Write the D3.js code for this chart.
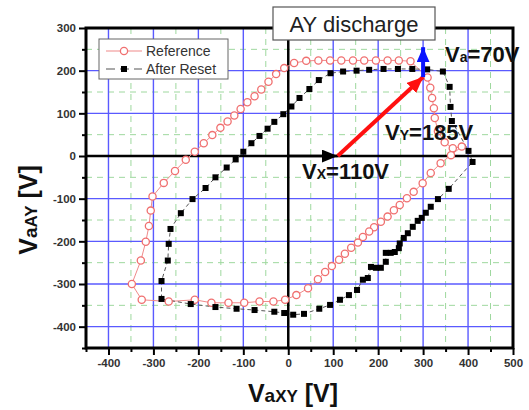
<!DOCTYPE html>
<html>
<head>
<meta charset="utf-8">
<script src="https://cdn.jsdelivr.net/npm/d3@7"></script>
<style>
  body { margin: 0; background: #fff; }
  svg { font-family: "Liberation Sans", Arial, sans-serif; }
</style>
</head>
<body>
<div id="chart"></div>
<script>
// Reference loop (open red circles)
const refX = [-348, -328, -317, -310, -306, -302, -277, -252, -228, -208, -188, -169, -151, -135, -120, -106, -91, -75, -60, -44, -27, -9, 13, 40, 67, 93, 118, 144, 169, 195, 221, 246, 272, 310, 316, 320, 324, 326, 333, 348, 366, 386, 362, 339, 317, 299, 279, 264, 248, 235, 221, 206, 191, 180, 166, 155, 140, 126, 113, 97, 82, 66, 44, 18, -7, -33, -64, -98, -133, -171, -208, -266, -326, -348];
const refY = [-300, -245, -201, -164, -128, -95, -63, -35, -9, 10, 30, 49, 66, 81, 95, 110, 126, 140, 156, 174, 192, 206, 218, 223, 224, 224, 224, 224, 224, 224, 224, 224, 222, 184, 160, 136, 112, 89, 58, 32, 18, 22, 2, -17, -40, -64, -84, -99, -115, -127, -142, -154, -167, -177, -190, -203, -215, -229, -243, -258, -272, -289, -310, -326, -337, -341, -341, -344, -344, -344, -337, -341, -337, -300];

// After reset loop (black squares)
const resetX = [-100, -82, -64, -46, -31, -11, 7, 25, 47, 68, 94, 122, 152, 180, 212, 244, 276, 309, 344, 359, 361, 364, 401, 410, 357, 333, 317, 306, 297, 288, 277, 266, 257, 248, 246, 237, 228, 217, 217, 206, 195, 184, 177, 166, 153, 135, 115, 93, 69, 35, 11, -9, -31, -75, -115, -162, -217, -282, -282, -268, -266, -262, -239, -213, -184, -162, -137, -117, -100];
const resetY = [10, 30, 47, 64, 80, 98, 116, 136, 157, 178, 194, 198, 200, 202, 204, 204, 204, 203, 198, 162, 115, 82, 12, -14, -77, -101, -119, -133, -145, -152, -166, -181, -192, -205, -216, -225, -227, -227, -248, -262, -262, -260, -286, -290, -314, -326, -337, -349, -358, -370, -372, -368, -365, -361, -358, -354, -347, -335, -293, -245, -206, -171, -134, -101, -75, -50, -27, -8, 10];

const xMajor = [-400, -300, -200, -100, 0, 100, 200, 300, 400, 500];
const yMajor = [-400, -300, -200, -100, 0, 100, 200, 300];
const xMinor = [-450, -350, -250, -150, -50, 50, 150, 250, 350, 450];
const yMinor = [-450, -350, -250, -150, -50, 50, 150, 250];

// vector decomposition: Vx, Vy, Va
const vx = 110, vyEnd = [300, 185], va = 70;

const width = 529, height = 410;
const margin = { left: 86, right: 16, top: 28, bottom: 62 };

const x = d3.scaleLinear().domain([-450, 500]).range([margin.left, width - margin.right]);
const y = d3.scaleLinear().domain([-450, 300]).range([height - margin.bottom, margin.top]);

const svg = d3.select("#chart")
    .append("svg")
    .attr("width", width)
    .attr("height", height);

const defs = svg.append("defs");
function arrowHead(id, color, w, h) {
    defs.append("marker")
        .attr("id", id)
        .attr("viewBox", `0 0 ${w} ${h}`)
        .attr("refX", w)
        .attr("refY", h / 2)
        .attr("markerWidth", w)
        .attr("markerHeight", h)
        .attr("markerUnits", "userSpaceOnUse")
        .attr("orient", "auto")
        .append("path")
        .attr("d", `M0,0 L${w},${h / 2} L0,${h} Z`)
        .attr("fill", color);
}
arrowHead("headBlack", "#000", 16, 13);
arrowHead("headRed", "#ff1010", 16, 14);
arrowHead("headBlue", "#0a14ff", 15, 13);

const x0 = margin.left, x1 = width - margin.right;
const y0 = margin.top, y1 = height - margin.bottom;

// minor grid
const grid = svg.append("g");
grid.selectAll(".gx").data(xMinor.filter(d => d > -450)).enter().append("line")
    .attr("x1", d => x(d)).attr("x2", d => x(d))
    .attr("y1", y0).attr("y2", y1)
    .attr("stroke", "#9ed89e").attr("stroke-width", 1).attr("stroke-dasharray", "6,5");
grid.selectAll(".gy").data(yMinor.filter(d => d > -450)).enter().append("line")
    .attr("y1", d => y(d)).attr("y2", d => y(d))
    .attr("x1", x0).attr("x2", x1)
    .attr("stroke", "#9ed89e").attr("stroke-width", 1).attr("stroke-dasharray", "6,5");

// major grid
grid.selectAll(".mx").data(xMajor.filter(d => d !== 0 && d < 500)).enter().append("line")
    .attr("x1", d => x(d)).attr("x2", d => x(d))
    .attr("y1", y0).attr("y2", y1)
    .attr("stroke", "#5a5aff").attr("stroke-width", 1.4);
grid.selectAll(".my").data(yMajor.filter(d => d !== 0 && d < 300)).enter().append("line")
    .attr("y1", d => y(d)).attr("y2", d => y(d))
    .attr("x1", x0).attr("x2", x1)
    .attr("stroke", "#5a5aff").attr("stroke-width", 1.4);

// zero lines
svg.append("line")
    .attr("x1", x(0)).attr("x2", x(0)).attr("y1", y0).attr("y2", y1)
    .attr("stroke", "#000").attr("stroke-width", 2.5);
svg.append("line")
    .attr("x1", x0).attr("x2", x1).attr("y1", y(0)).attr("y2", y(0))
    .attr("stroke", "#000").attr("stroke-width", 2.5);

// axes
const tickFmt = d => d;
svg.append("g")
    .attr("transform", `translate(${x0},0)`)
    .call(d3.axisLeft(y).tickValues(yMinor).tickSize(4).tickFormat(""))
    .call(g => g.select(".domain").remove());
svg.append("g")
    .attr("transform", `translate(0,${y1})`)
    .call(d3.axisBottom(x).tickValues(xMinor).tickSize(4).tickFormat(""))
    .call(g => g.select(".domain").remove());
const yAxis = svg.append("g")
    .attr("transform", `translate(${x0},0)`)
    .call(d3.axisLeft(y).tickValues(yMajor).tickSize(7).tickPadding(3).tickFormat(tickFmt));
const xAxis = svg.append("g")
    .attr("transform", `translate(0,${y1})`)
    .call(d3.axisBottom(x).tickValues(xMajor).tickSize(7).tickPadding(4).tickFormat(tickFmt));
[yAxis, xAxis].forEach(g => {
    g.select(".domain").remove();
    g.selectAll(".tick line").attr("stroke-width", 2);
    g.selectAll(".tick text")
        .attr("fill", "#333")
        .style("font-size", "11.5px")
        .style("font-weight", "bold")
        .style("font-family", "'Liberation Sans', Arial, sans-serif");
});
svg.selectAll(".tick line").attr("stroke", "#000").attr("stroke-width", 2);

// series
const refPts = refX.map((d, i) => [d, refY[i]]);
const resetPts = resetX.map((d, i) => [d, resetY[i]]);
const line = d3.line().x(d => x(d[0])).y(d => y(d[1]));

svg.append("path")
    .datum(refPts)
    .attr("d", line)
    .attr("fill", "none")
    .attr("stroke", "#f08a8a")
    .attr("stroke-width", 1);
svg.append("path")
    .datum(resetPts)
    .attr("d", line)
    .attr("fill", "none")
    .attr("stroke", "#555")
    .attr("stroke-width", 1)
    .attr("stroke-dasharray", "4,3");

svg.append("g").selectAll("circle")
    .data(refPts.slice(0, -1))
    .enter().append("circle")
    .attr("cx", d => x(d[0]))
    .attr("cy", d => y(d[1]))
    .attr("r", 3.6)
    .attr("fill", "#fff")
    .attr("stroke", "#f07070")
    .attr("stroke-width", 1.3);
svg.append("g").selectAll("rect")
    .data(resetPts.slice(0, -1))
    .enter().append("rect")
    .attr("x", d => x(d[0]) - 3)
    .attr("y", d => y(d[1]) - 3)
    .attr("width", 6)
    .attr("height", 6)
    .attr("fill", "#000");

// arrows
svg.append("line")
    .attr("x1", x(0)).attr("y1", y(0))
    .attr("x2", x(vx)).attr("y2", y(0))
    .attr("stroke", "#000").attr("stroke-width", 2.5)
    .attr("marker-end", "url(#headBlack)");
svg.append("line")
    .attr("x1", x(vx)).attr("y1", y(0))
    .attr("x2", x(vyEnd[0])).attr("y2", y(vyEnd[1]))
    .attr("stroke", "#ff1010").attr("stroke-width", 4)
    .attr("marker-end", "url(#headRed)");
svg.append("line")
    .attr("x1", x(vyEnd[0])).attr("y1", y(vyEnd[1]))
    .attr("x2", x(vyEnd[0])).attr("y2", y(vyEnd[1] + va))
    .attr("stroke", "#0a14ff").attr("stroke-width", 4)
    .attr("marker-end", "url(#headBlue)");

// frame
svg.append("rect")
    .attr("x", x0).attr("y", y0)
    .attr("width", x1 - x0).attr("height", y1 - y0)
    .attr("fill", "none")
    .attr("stroke", "#000")
    .attr("stroke-width", 3);

// legend
const leg = svg.append("g").attr("transform", "translate(99,39)");
leg.append("rect")
    .attr("width", 129).attr("height", 40)
    .attr("fill", "#fff").attr("stroke", "#666").attr("stroke-width", 1);
leg.append("line").attr("x1", 7).attr("x2", 43).attr("y1", 12).attr("y2", 12)
    .attr("stroke", "#f08a8a").attr("stroke-width", 1.2);
leg.append("circle").attr("cx", 25).attr("cy", 12).attr("r", 3.6)
    .attr("fill", "#fff").attr("stroke", "#f07070").attr("stroke-width", 1.3);
leg.append("line").attr("x1", 7).attr("x2", 43).attr("y1", 30).attr("y2", 30)
    .attr("stroke", "#555").attr("stroke-width", 1.2).attr("stroke-dasharray", "9,5");
leg.append("rect").attr("x", 22).attr("y", 27).attr("width", 6).attr("height", 6).attr("fill", "#000");
leg.append("text").attr("x", 47).attr("y", 17).text("Reference")
    .attr("fill", "#333").style("font-size", "14px");
leg.append("text").attr("x", 47).attr("y", 35).text("After Reset")
    .attr("fill", "#333").style("font-size", "14px");

// title box
svg.append("rect")
    .attr("x", 273).attr("y", 7).attr("width", 162).attr("height", 33)
    .attr("fill", "#fff").attr("stroke", "#555").attr("stroke-width", 1.2);
svg.append("text")
    .attr("x", 354).attr("y", 32)
    .attr("text-anchor", "middle")
    .attr("fill", "#222")
    .style("font-size", "22px")
    .text("AY discharge");

// vector labels
function subLabel(px, py, main, sub, rest, size) {
    const t = svg.append("text")
        .attr("x", px).attr("y", py)
        .attr("fill", "#111")
        .style("font-weight", "bold")
        .style("font-size", size + "px");
    t.append("tspan").text(main);
    t.append("tspan").style("font-size", Math.round(size * 0.62) + "px").text(sub);
    t.append("tspan").text(rest);
    return t;
}
subLabel(445, 62, "V", "a", "=70V", 22);
subLabel(385, 140, "V", "Y", "=185V", 22);
subLabel(302, 179, "V", "X", "=110V", 22);

// axis titles
const xt = svg.append("text")
    .attr("x", 293).attr("y", 402)
    .attr("text-anchor", "middle")
    .attr("fill", "#111")
    .style("font-weight", "bold")
    .style("font-size", "25px");
xt.append("tspan").text("V");
xt.append("tspan").style("font-size", "19px").text("a");
xt.append("tspan").style("font-size", "17px").text("XY");
xt.append("tspan").text(" [V]");

const yt = svg.append("text")
    .attr("transform", "translate(37,210) rotate(-90)")
    .attr("text-anchor", "middle")
    .attr("fill", "#111")
    .style("font-weight", "bold")
    .style("font-size", "25px");
yt.append("tspan").text("V");
yt.append("tspan").style("font-size", "19px").text("a");
yt.append("tspan").style("font-size", "17px").text("AY");
yt.append("tspan").text(" [V]");
</script>
</body>
</html>
